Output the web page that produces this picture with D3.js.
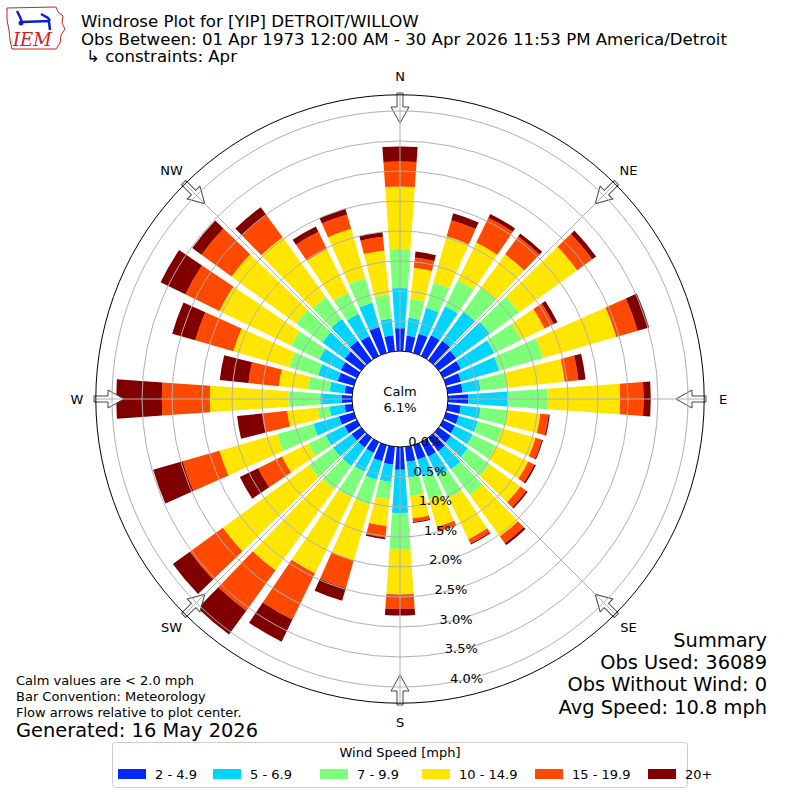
<!DOCTYPE html>
<html>
<head>
<meta charset="utf-8">
<script src="https://cdn.jsdelivr.net/npm/d3@7"></script>
<style>
  body { margin: 0; background: #fff; }
  svg { font-family: "DejaVu Sans", sans-serif; }
</style>
</head>
<body>
<svg id="chart" width="800" height="800"></svg>
<script>
// Wind directions (bin centres, degrees from north)
const directions = [0, 10, 20, 30, 40, 50, 60, 70, 80, 90, 100, 110, 120, 130, 140, 150, 160, 170,
                    180, 190, 200, 210, 220, 230, 240, 250, 260, 270, 280, 290, 300, 310, 320, 330, 340, 350];

// Frequency (%) per speed bin, one value per direction
const speed2to5 = [0.38, 0.26, 0.33, 0.38, 0.40, 0.36, 0.33, 0.26, 0.25, 0.34, 0.22, 0.22, 0.22, 0.25, 0.28, 0.27, 0.25, 0.25,
                   0.38, 0.30, 0.28, 0.20, 0.20, 0.20, 0.23, 0.26, 0.13, 0.17, 0.13, 0.28, 0.30, 0.34, 0.40, 0.37, 0.45, 0.27];
const speed5to7 = [0.67, 0.30, 0.45, 0.54, 0.60, 0.69, 0.62, 0.66, 0.30, 0.65, 0.33, 0.33, 0.33, 0.35, 0.37, 0.35, 0.30, 0.27,
                   0.72, 0.29, 0.32, 0.35, 0.38, 0.38, 0.35, 0.44, 0.25, 0.36, 0.25, 0.34, 0.40, 0.46, 0.45, 0.41, 0.42, 0.28];
const speed7to10 = [0.65, 0.32, 0.44, 0.48, 0.50, 0.60, 0.50, 0.76, 0.45, 0.67, 0.45, 0.42, 0.43, 0.45, 0.53, 0.42, 0.39, 0.30,
                    0.61, 0.29, 0.43, 0.48, 0.48, 0.50, 0.32, 0.63, 0.20, 0.53, 0.37, 0.50, 0.52, 0.54, 0.45, 0.39, 0.43, 0.40];
const speed10to15 = [1.04, 0.52, 0.80, 0.70, 0.68, 1.20, 0.43, 1.27, 0.96, 1.21, 0.55, 0.58, 0.60, 0.63, 0.85, 0.76, 0.48, 0.38,
                     0.75, 0.45, 0.97, 1.40, 1.67, 1.77, 0.49, 1.00, 0.51, 1.31, 0.48, 0.97, 1.33, 1.33, 1.23, 0.81, 0.85, 0.74];
const speed15to20 = [0.42, 0.17, 0.28, 0.46, 0.37, 0.31, 0.17, 0.37, 0.23, 0.39, 0.14, 0.11, 0.11, 0.12, 0.14, 0.08, 0.07, 0.06,
                     0.24, 0.19, 0.48, 0.86, 0.83, 0.68, 0.44, 0.64, 0.42, 0.80, 0.51, 0.66, 0.63, 0.62, 0.46, 0.32, 0.25, 0.23];
const speed20plus = [0.25, 0.10, 0.12, 0.07, 0.06, 0.08, 0.07, 0.20, 0.12, 0.12, 0.02, 0.02, 0.03, 0.03, 0.04, 0.02, 0.02, 0.02,
                     0.11, 0.03, 0.22, 0.41, 0.49, 0.35, 0.34, 0.51, 0.42, 0.76, 0.48, 0.40, 0.46, 0.19, 0.16, 0.10, 0.10, 0.08];

const speedLabels = ['2 - 4.9', '5 - 6.9', '7 - 9.9', '10 - 14.9', '15 - 19.9', '20+'];
const speedColors = ['#0028ff', '#00d4ff', '#7cff79', '#ffe600', '#ff4800', '#800000'];

const radialTicks = [0.0, 0.5, 1.0, 1.5, 2.0, 2.5, 3.0, 3.5, 4.0];
const compassNames = ['N', 'NE', 'E', 'SE', 'S', 'SW', 'W', 'NW'];
const compassAngles = [0, 45, 90, 135, 180, 225, 270, 315];

const calmText = '6.1%';
const titleLines = [
  'Windrose Plot for [YIP] DETROIT/WILLOW',
  'Obs Between: 01 Apr 1973 12:00 AM - 30 Apr 2026 11:53 PM America/Detroit',
  '\u21b3 constraints: Apr'
];
const summaryLines = ['Summary', 'Obs Used: 36089', 'Obs Without Wind: 0', 'Avg Speed: 10.8 mph'];
const noteLines = ['Calm values are < 2.0 mph', 'Bar Convention: Meteorology', 'Flow arrows relative to plot center.'];
const generatedText = 'Generated: 16 May 2026';

// ---------------------------------------------------------------
const svg = d3.select('#chart');
const cx = 400, cy = 399;
const calmR = 48, outerR = 304.2;
const rad = Math.PI / 180;

const r = d3.scaleLinear().domain([0, 4.27]).range([calmR, outerR]);

const series = [speed2to5, speed5to7, speed7to10, speed10to15, speed15to20, speed20plus];
const keys = speedLabels;
const rows = directions.map((dir, i) => {
  const row = { dir };
  keys.forEach((k, j) => { row[k] = series[j][i]; });
  return row;
});
const stacked = d3.stack().keys(keys)(rows);

const g = svg.append('g').attr('transform', `translate(${cx},${cy})`);

// Bars
const arc = d3.arc();
const halfWidth = 4 * rad;
stacked.forEach((layer, k) => {
  g.append('g')
    .selectAll('path')
    .data(layer)
    .join('path')
    .attr('fill', speedColors[k])
    .attr('d', d => arc({
      innerRadius: r(d[0]),
      outerRadius: r(d[1]),
      startAngle: d.data.dir * rad - halfWidth,
      endAngle: d.data.dir * rad + halfWidth
    }));
});

// Flow arrows (hollow, pointing inward)
const arrowPts = [[-3, -306], [-3, -292], [-9, -292], [0, -276], [9, -292], [3, -292], [3, -306]];
g.selectAll('.arrow')
  .data(compassAngles)
  .join('path')
  .attr('class', 'arrow')
  .attr('transform', a => `rotate(${a})`)
  .attr('d', d3.line()(arrowPts) + 'Z')
  .attr('fill', '#fff')
  .attr('stroke', '#444')
  .attr('stroke-width', 1);

// Grid rings and spokes
g.selectAll('.ring')
  .data(radialTicks.filter(t => t > 0))
  .join('circle')
  .attr('class', 'ring')
  .attr('r', d => r(d))
  .attr('fill', 'none')
  .attr('stroke', '#b0b0b0')
  .attr('stroke-width', 1);

g.selectAll('.spoke')
  .data(compassAngles)
  .join('line')
  .attr('class', 'spoke')
  .attr('x1', a => calmR * Math.sin(a * rad))
  .attr('y1', a => -calmR * Math.cos(a * rad))
  .attr('x2', a => outerR * Math.sin(a * rad))
  .attr('y2', a => -outerR * Math.cos(a * rad))
  .attr('stroke', '#b0b0b0')
  .attr('stroke-width', 1);

// Outer frame
g.append('circle')
  .attr('r', outerR)
  .attr('fill', 'none')
  .attr('stroke', '#000')
  .attr('stroke-width', 1);

// Calm circle
g.append('circle')
  .attr('r', calmR)
  .attr('fill', '#fff')
  .attr('stroke', '#000')
  .attr('stroke-width', 1);

g.append('text')
  .attr('x', 0).attr('y', -8)
  .attr('text-anchor', 'middle')
  .attr('dominant-baseline', 'central')
  .attr('font-size', 13)
  .text('Calm');
g.append('text')
  .attr('x', 0).attr('y', 8)
  .attr('text-anchor', 'middle')
  .attr('dominant-baseline', 'central')
  .attr('font-size', 13)
  .text(calmText);

// Radial tick labels along 170 degrees
const labelAngle = 170 * rad;
g.selectAll('.rlabel')
  .data(radialTicks)
  .join('text')
  .attr('class', 'rlabel')
  .attr('x', d => r(d) * Math.sin(labelAngle))
  .attr('y', d => -r(d) * Math.cos(labelAngle))
  .attr('font-size', 13)
  .text(d => d.toFixed(1) + '%');

// Compass labels
g.selectAll('.clabel')
  .data(compassAngles)
  .join('text')
  .attr('class', 'clabel')
  .attr('x', a => 323 * Math.sin(a * rad))
  .attr('y', a => -323 * Math.cos(a * rad))
  .attr('text-anchor', 'middle')
  .attr('dominant-baseline', 'central')
  .attr('font-size', 13)
  .text((a, i) => compassNames[i]);

// Title block
svg.selectAll('.title')
  .data(titleLines)
  .join('text')
  .attr('class', 'title')
  .attr('x', (d, i) => i === 2 ? 86 : 81)
  .attr('y', (d, i) => 27 + i * 17.5)
  .attr('font-size', 16.6)
  .text(d => d);

// IEM logo (simplified)
const logo = svg.append('g');
logo.append('path')
  .attr('d', 'M7,8 L56,7 L58,12 L63,16 L62,23 L65,29 L61,35 L60,43 L56,49 L12,49 L10,40 L9,30 L7,20 Z')
  .attr('fill', 'none')
  .attr('stroke', '#d02020')
  .attr('stroke-width', 1);
logo.append('path')
  .attr('d', 'M22,22 L50,21 M17,11 L20,17 L22,22 M41,14 L48,18 L50,21 M49,22 L50,30')
  .attr('fill', 'none')
  .attr('stroke', '#1020c0')
  .attr('stroke-width', 2.5);
logo.append('circle').attr('cx', 21).attr('cy', 23).attr('r', 2.5).attr('fill', '#1020c0');
logo.append('text')
  .attr('x', 13).attr('y', 46)
  .attr('font-family', '"DejaVu Serif", "Liberation Serif", serif')
  .attr('font-style', 'italic')
  .attr('font-size', 18)
  .attr('fill', '#d02020')
  .text('IEM');

// Notes bottom-left
svg.selectAll('.note')
  .data(noteLines)
  .join('text')
  .attr('class', 'note')
  .attr('x', 16)
  .attr('y', (d, i) => 685 + i * 16)
  .attr('font-size', 13)
  .text(d => d);
svg.append('text')
  .attr('x', 16).attr('y', 737)
  .attr('font-size', 19.4)
  .text(generatedText);

// Summary bottom-right
svg.selectAll('.summary')
  .data(summaryLines)
  .join('text')
  .attr('class', 'summary')
  .attr('x', 767)
  .attr('y', (d, i) => 647 + i * 22.2)
  .attr('text-anchor', 'end')
  .attr('font-size', 19.4)
  .text(d => d);

// Legend
const legend = svg.append('g');
legend.append('rect')
  .attr('x', 112.5).attr('y', 742.5)
  .attr('width', 575).attr('height', 45)
  .attr('rx', 3)
  .attr('fill', '#fff')
  .attr('stroke', '#cccccc');
legend.append('text')
  .attr('x', 400).attr('y', 757)
  .attr('text-anchor', 'middle')
  .attr('font-size', 13)
  .text('Wind Speed [mph]');
const legendX = [118, 213, 320, 422, 535, 648];
const items = legend.selectAll('.item')
  .data(speedLabels)
  .join('g')
  .attr('class', 'item')
  .attr('transform', (d, i) => `translate(${legendX[i]},0)`);
items.append('rect')
  .attr('x', 0).attr('y', 769)
  .attr('width', 28).attr('height', 10)
  .attr('fill', (d, i) => speedColors[i]);
items.append('text')
  .attr('x', 37).attr('y', 779)
  .attr('font-size', 13)
  .text(d => d);
</script>
</body>
</html>
